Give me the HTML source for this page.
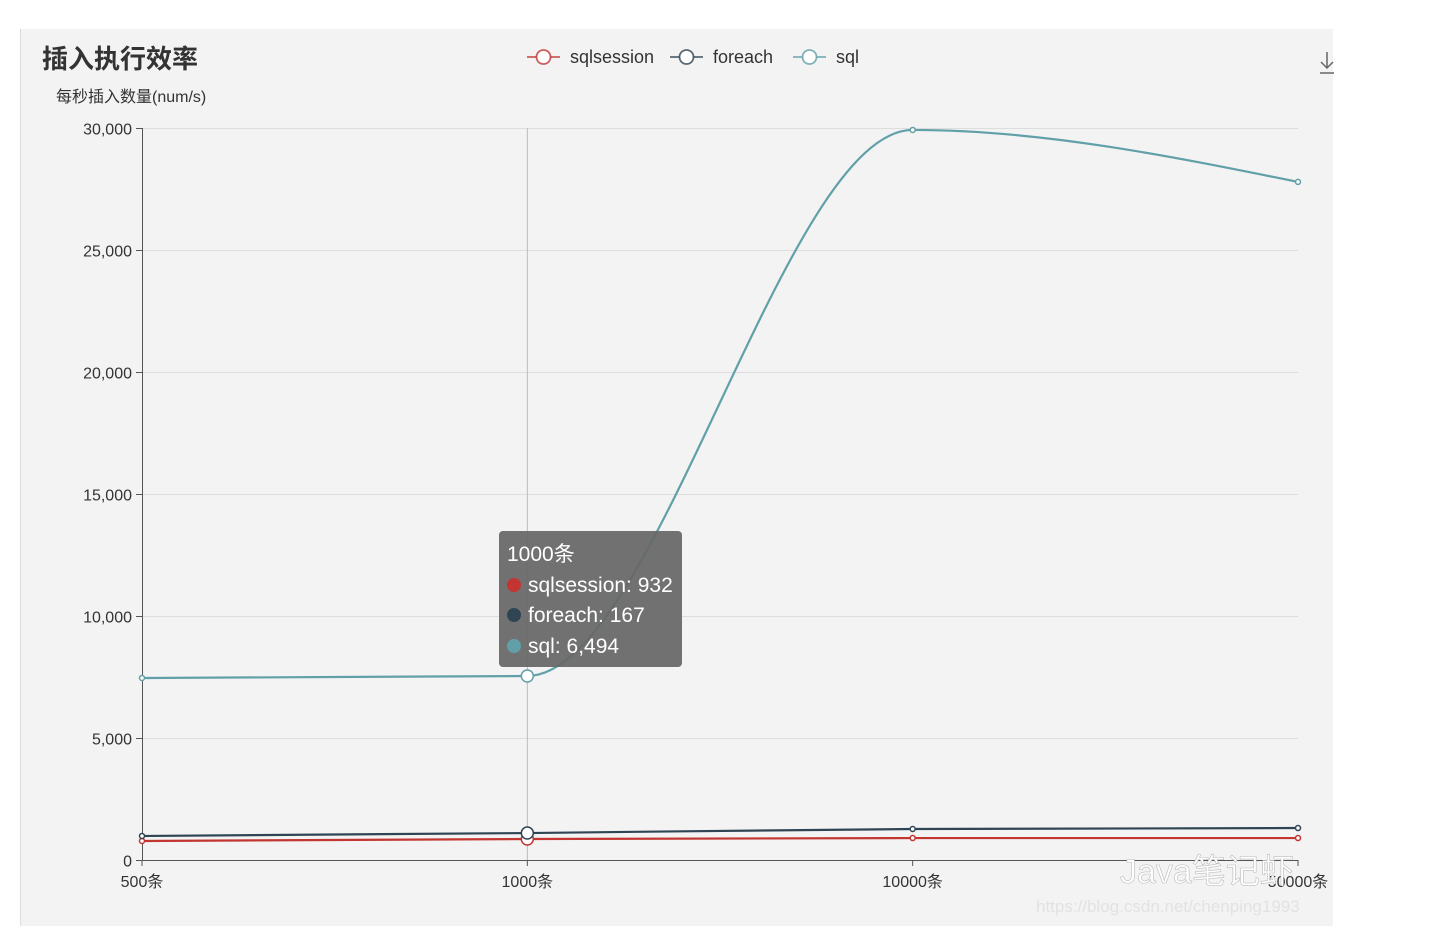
<!DOCTYPE html>
<html><head><meta charset="utf-8"><style>
html,body{margin:0;padding:0;background:#fff;width:1430px;height:944px;overflow:hidden}
svg{display:block;font-family:"Liberation Sans","Noto Sans CJK SC",sans-serif}
</style></head><body>
<svg id="chart" width="1430" height="944">
<rect x="20" y="29" width="1313" height="897" fill="#f3f3f3"/>
<line x1="20.5" y1="29" x2="20.5" y2="926" stroke="#ddd"/>
<text x="42" y="68" font-size="26" font-weight="bold" fill="#333">插入执行效率</text>
<text x="56" y="102" font-size="16" fill="#333">每秒插入数量(num/s)</text>
<g id="grid"></g><g id="axes"></g><g id="series"></g><g id="legend"></g>
<g stroke="#666" stroke-width="1.5" fill="none">
<path d="M1327 52 v16 M1321 62 l6 6 l6 -6 M1320 73 h14"/></g>
<g fill="#fff" stroke="#bbb" stroke-width="0.6">
<text x="1120" y="883" font-size="34">Java笔记虾</text>
<text x="1036" y="912" font-size="17" stroke="none" fill="#e2e2e2">https://blog.csdn.net/chenping1993</text></g>
<g id="tooltip">
<rect x="499" y="531" width="183" height="136" rx="4" fill="#666" fill-opacity="0.92"/>
<text x="507" y="561" font-size="21" fill="#fff">1000条</text>
<circle cx="514" cy="585" r="7" fill="#c23531"/><text x="528" y="592" font-size="21" fill="#fff">sqlsession: 932</text>
<circle cx="514" cy="615" r="7" fill="#2f4554"/><text x="528" y="622" font-size="21" fill="#fff">foreach: 167</text>
<circle cx="514" cy="646" r="7" fill="#61a0a8"/><text x="528" y="653" font-size="21" fill="#fff">sql: 6,494</text>
</g>
</svg>
<script>
const categories = ["500条","1000条","10000条","50000条"];
const yTicks = [0,5000,10000,15000,20000,25000,30000];
const seriesNames = ["sqlsession","foreach","sql"];
const sqlsessionValues = [780,860,900,900];
const foreachValues = [985,1105,1270,1310];
const sqlValues = [7460,7540,29920,27790];
const colors = ["#c23531","#2f4554","#61a0a8"];
const activeIndex = 1;

const NS="http://www.w3.org/2000/svg";
const X0=142,X1=1298,Y0=860,Y1=128,YMAX=30000;
const xs=i=>X0+(X1-X0)*i/(categories.length-1);
const ys=v=>Y0-(Y0-Y1)*v/YMAX;
function mk(tag,attrs,parent){const e=document.createElementNS(NS,tag);for(const k in attrs)e.setAttribute(k,attrs[k]);parent.appendChild(e);return e;}
const grid=document.getElementById('grid'),axes=document.getElementById('axes'),ser=document.getElementById('series'),leg=document.getElementById('legend');
yTicks.forEach(t=>{const y=Math.round(ys(t))+0.5;
 if(t>0){const g=mk('line',{x1:X0,x2:X1,y1:y,y2:y,stroke:'#ddd'},grid);}
 const tk=mk('line',{x1:X0-6,x2:X0,y1:y,y2:y,stroke:'#555'},axes);
 const tx=mk('text',{x:X0-10,y:y+6,'text-anchor':'end','font-size':16,fill:'#333'},axes);tx.textContent=t.toLocaleString('en-US');
 });
const pl=mk('line',{x1:xs(activeIndex),x2:xs(activeIndex),y1:Y1,y2:Y0,stroke:'#bbb'},grid);

let a=mk('line',{x1:X0+0.5,x2:X0+0.5,y1:Y1,y2:Y0,stroke:'#555'},axes);
a=mk('line',{x1:X0,x2:X1,y1:Y0+0.5,y2:Y0+0.5,stroke:'#555'},axes);
categories.forEach((c,i)=>{const x=xs(i);
 const tk=mk('line',{x1:x,x2:x,y1:Y0,y2:Y0+6,stroke:'#555'},axes);
 const tx=mk('text',{x:x,y:Y0+27,'text-anchor':'middle','font-size':16,fill:'#333'},axes);tx.textContent=c;
 });
function sgn(v){return v<0?-1:1;}
[sqlsessionValues,foreachValues,sqlValues].forEach((vals,s)=>{
 const pts=vals.map((v,i)=>[xs(i),ys(v)]);
 const n=pts.length;
 const sec=[];for(let i=0;i<n-1;i++)sec.push((pts[i+1][1]-pts[i][1])/(pts[i+1][0]-pts[i][0]));
 const m=new Array(n);
 for(let i=1;i<n-1;i++){const h0=pts[i][0]-pts[i-1][0],h1=pts[i+1][0]-pts[i][0],s0=sec[i-1],s1=sec[i];
  const p=(s0*h1+s1*h0)/(h0+h1);
  m[i]=(sgn(s0)+sgn(s1))*Math.min(Math.abs(s0),Math.abs(s1),0.5*Math.abs(p))||0;}
 m[0]=(3*sec[0]-m[1])/2; m[n-1]=(3*sec[n-2]-m[n-2])/2;
 let d='M'+pts[0][0]+' '+pts[0][1];
 for(let i=1;i<n;i++){const p=pts[i-1],q=pts[i],dx=(q[0]-p[0])/3;
  d+=` C${p[0]+dx} ${p[1]+m[i-1]*dx} ${q[0]-dx} ${q[1]-m[i]*dx} ${q[0]} ${q[1]}`;}
 const path=mk('path',{d:d,fill:'none',stroke:colors[s],'stroke-width':2.2},ser);
 
 pts.forEach((p,i)=>{const c=mk('circle',{cx:p[0],cy:p[1],r:i===activeIndex?6:2.5,fill:'#fff',stroke:colors[s],'stroke-width':1.5},ser);
  });
});
const legX=[527,670,793];
seriesNames.forEach((n,s)=>{const g=mk('g',{},leg);
 
 const x=legX[s];
 mk('line',{x1:x,x2:x+33,y1:57,y2:57,stroke:colors[s],'stroke-width':1.8,'stroke-opacity':0.8},g);
 mk('circle',{cx:x+16.5,cy:57,r:7,fill:'#fff',stroke:colors[s],'stroke-width':1.8,'stroke-opacity':0.8},g);
 const t=mk('text',{x:x+43,y:63,'font-size':18,fill:'#333'},g);t.textContent=n;});
</script>
</body></html>
